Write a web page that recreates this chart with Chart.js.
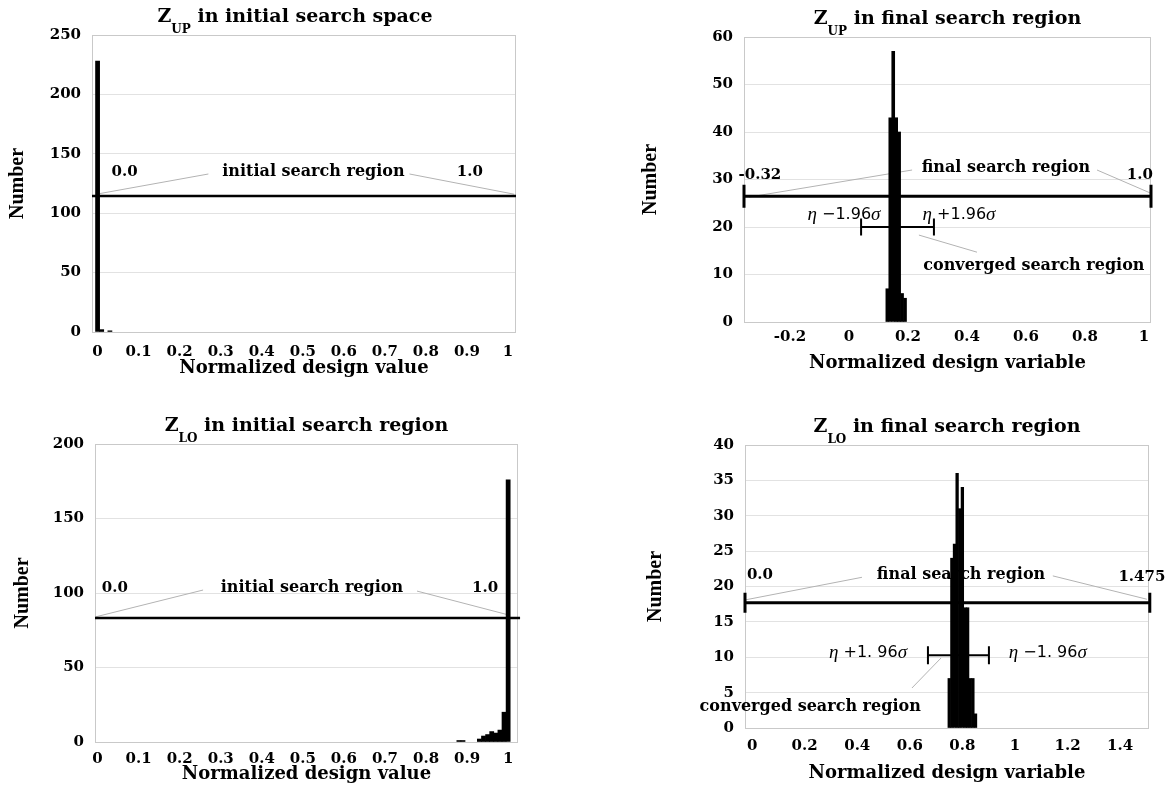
<!DOCTYPE html>
<html>
<head>
<meta charset="utf-8">
<script src="https://cdn.jsdelivr.net/npm/chart.js@4.4.1/dist/chart.umd.min.js"></script>
<style>
  html, body { margin: 0; padding: 0; background: #fff; }
  #wrap { position: relative; width: 1169px; height: 786px; overflow: hidden; }
  canvas { position: absolute; }
</style>
</head>
<body>
<div id="wrap">
  <canvas id="up-init" width="584" height="393" style="left:0;top:0"></canvas>
  <canvas id="up-final" width="585" height="393" style="left:584px;top:0"></canvas>
  <canvas id="lo-init" width="584" height="393" style="left:0;top:393px"></canvas>
  <canvas id="lo-final" width="585" height="393" style="left:584px;top:393px"></canvas>
</div>
<script>
// ---- data ----

// Z_UP, initial search space
const upInitBins = [0, 0.01, 0.03];
const upInitCounts = [228, 2, 1];
const upInitXTicks = [0, 0.1, 0.2, 0.3, 0.4, 0.5, 0.6, 0.7, 0.8, 0.9, 1];
const upInitYTicks = [0, 50, 100, 150, 200, 250];
const upInitRange = [-0.0136, 1.0195];
const upInitRegion = [-0.0136, 1.0195];
const upInitLevel = 114.5;

// Z_UP, final search region
const upFinalBins = [0.13, 0.14, 0.15, 0.16, 0.17, 0.18, 0.19];
const upFinalCounts = [7, 43, 57, 43, 40, 6, 5];
const upFinalXTicks = [-0.2, 0, 0.2, 0.4, 0.6, 0.8, 1];
const upFinalYTicks = [0, 10, 20, 30, 40, 50, 60];
const upFinalRange = [-0.356, 1.024];
const upFinalRegion = [-0.356, 1.024];
const upFinalLevel = 26.5;
const upConvRegion = [0.041, 0.288];
const upConvLevel = 20;

// Z_LO, initial search region
const loInitBins = [0.88, 0.89, 0.93, 0.94, 0.95, 0.96, 0.97, 0.98, 0.99, 1.0];
const loInitCounts = [1, 1, 2, 4, 5, 7, 6, 8, 20, 176];
const loInitXTicks = [0, 0.1, 0.2, 0.3, 0.4, 0.5, 0.6, 0.7, 0.8, 0.9, 1];
const loInitYTicks = [0, 50, 100, 150, 200];
const loInitRange = [-0.0063, 1.024];
const loInitRegion = [-0.0063, 1.029];
const loInitLevel = 83.2;

// Z_LO, final search region
const loFinalBins = [0.75, 0.76, 0.77, 0.78, 0.79, 0.80, 0.81, 0.82, 0.83, 0.84, 0.85];
const loFinalCounts = [7, 24, 26, 36, 31, 34, 17, 17, 7, 7, 2];
const loFinalXTicks = [0, 0.2, 0.4, 0.6, 0.8, 1, 1.2, 1.4];
const loFinalYTicks = [0, 5, 10, 15, 20, 25, 30, 35, 40];
const loFinalRange = [-0.027, 1.51];
const loFinalRegion = [-0.027, 1.513];
const loFinalLevel = 17.7;
const loConvRegion = [0.669, 0.901];
const loConvLevel = 10.3;

// ---- styling ----
const SERIF = "'DejaVu Serif', serif";
Chart.defaults.font.family = SERIF;
Chart.defaults.font.size = 15;
Chart.defaults.font.weight = 'bold';
Chart.defaults.color = '#000';

const LABEL_FONT = 'bold 16px ' + SERIF;
const NUM_FONT = 'bold 15px ' + SERIF;
const GREEK = "italic 19px 'Liberation Serif', serif";
const DIGITS = "16px 'DejaVu Sans', sans-serif";

function fmt(v) {
    return String(Math.round(v * 1000) / 1000);
}

function txt(t, font) {
    return [{ t: t, font: font || LABEL_FONT }];
}

function eta(sign) {
    return [{ t: 'η', font: GREEK }, { t: sign, font: DIGITS }, { t: 'σ', font: GREEK }];
}

// draws a row of text pieces centred on (cx, cy)
function drawParts(ctx, parts, cx, cy) {
    let total = 0;
    const widths = parts.map(p => {
        ctx.font = p.font;
        const w = ctx.measureText(p.t).width;
        total += w;
        return w;
    });
    let x = cx - total / 2;
    ctx.textAlign = 'left';
    ctx.textBaseline = 'middle';
    parts.forEach((p, i) => {
        ctx.font = p.font;
        ctx.fillText(p.t, x, cy);
        x += widths[i];
    });
}

/**
 * Search region bars, leader lines, labels and the subscripted title
 */
function annotations(spec) {
    return {
        id: 'annotations',
        beforeDatasetsDraw(chart) {
            const { ctx, chartArea: a, scales: { x, y } } = chart;
            ctx.save();

            // plot frame
            ctx.strokeStyle = '#c9c9c9';
            ctx.lineWidth = 1;
            ctx.strokeRect(Math.round(a.left) + 0.5, Math.round(a.top) + 0.5,
                Math.round(a.width) - 1, Math.round(a.height));

            // thin leader lines
            ctx.strokeStyle = '#b3b3b3';
            spec.leaders.forEach(([x0, y0, x1, y1]) => {
                ctx.beginPath();
                ctx.moveTo(x.getPixelForValue(x0), y.getPixelForValue(y0));
                ctx.lineTo(x.getPixelForValue(x1), y.getPixelForValue(y1));
                ctx.stroke();
            });

            // region bars
            ctx.strokeStyle = '#000';
            spec.regions.forEach(r => {
                const x0 = x.getPixelForValue(r.range[0]);
                const x1 = x.getPixelForValue(r.range[1]);
                const py = y.getPixelForValue(r.level);
                ctx.lineWidth = r.lw;
                ctx.beginPath();
                ctx.moveTo(x0, py);
                ctx.lineTo(x1, py);
                if (r.cap) {
                    ctx.moveTo(x0, py - r.cap);
                    ctx.lineTo(x0, py + r.cap);
                    ctx.moveTo(x1, py - r.cap);
                    ctx.lineTo(x1, py + r.cap);
                }
                ctx.stroke();
            });

            // labels
            ctx.fillStyle = '#000';
            spec.labels.forEach(l => {
                drawParts(ctx, l.parts, x.getPixelForValue(l.x), y.getPixelForValue(l.y));
            });
            ctx.restore();
        },
        afterDraw(chart) {
            const { ctx, chartArea: a } = chart;
            const t = spec.title;
            const mainFont = 'bold 19px ' + SERIF;
            const subFont = 'bold 12px ' + SERIF;
            ctx.save();
            ctx.fillStyle = '#000';
            ctx.textAlign = 'left';
            ctx.textBaseline = 'alphabetic';
            ctx.font = mainFont;
            const wZ = ctx.measureText(t.main).width;
            const wRest = ctx.measureText(t.rest).width;
            ctx.font = subFont;
            const wSub = ctx.measureText(t.sub).width;
            let x0 = (a.left + a.right) / 2 + (t.dx || 0) - (wZ + wSub + wRest) / 2;
            ctx.font = mainFont;
            ctx.fillText(t.main, x0, a.top - 13);
            ctx.font = subFont;
            ctx.fillText(t.sub, x0 + wZ, a.top - 2);
            ctx.font = mainFont;
            ctx.fillText(t.rest, x0 + wZ + wSub, a.top - 13);
            ctx.restore();
        }
    };
}

function buildChart(id, cfg) {
    const ctx = document.getElementById(id);
    if (!ctx) return null;

    return new Chart(ctx, {
        type: 'bar',
        data: {
            datasets: [{
                data: cfg.bins.map((b, i) => ({ x: b, y: cfg.counts[i] })),
                backgroundColor: '#000',
                borderWidth: 0,
                barPercentage: 1,
                categoryPercentage: 1,
            }]
        },
        options: {
            responsive: false,
            animation: false,
            events: [],
            layout: { padding: cfg.pad },
            plugins: {
                legend: { display: false },
                title: { display: false },
                tooltip: { enabled: false }
            },
            scales: {
                x: {
                    type: 'linear',
                    min: cfg.range[0],
                    max: cfg.range[1],
                    offset: false,
                    grid: { display: false, offset: false },
                    border: { display: false },
                    ticks: {
                        padding: cfg.xTickPad,
                        autoSkip: false,
                        maxRotation: 0,
                        callback: fmt
                    },
                    afterBuildTicks: s => { s.ticks = cfg.xTicks.map(v => ({ value: v })); },
                    afterFit: s => { s.height = cfg.xHeight; },
                    title: {
                        display: true,
                        text: cfg.xTitle,
                        font: { size: 18 },
                        padding: { top: 0, bottom: 1 }
                    }
                },
                y: {
                    min: 0,
                    max: cfg.yTicks[cfg.yTicks.length - 1],
                    grid: { color: '#e2e2e2', drawTicks: false },
                    border: { display: false },
                    ticks: { padding: 11, callback: fmt },
                    afterBuildTicks: s => { s.ticks = cfg.yTicks.map(v => ({ value: v })); },
                    afterFit: s => { s.width = cfg.yWidth; },
                    title: {
                        display: true,
                        text: 'Number',
                        font: { family: "'Liberation Serif', serif", size: 20 },
                        padding: { top: cfg.yTitlePad, bottom: 0 }
                    }
                }
            }
        },
        plugins: [annotations(cfg)]
    });
}

// Z_UP initial
buildChart('up-init', {
    bins: upInitBins, counts: upInitCounts,
    range: upInitRange, xTicks: upInitXTicks, yTicks: upInitYTicks,
    xTitle: 'Normalized design value',
    pad: { left: 0, top: 35, right: 68, bottom: 13 },
    yWidth: 92, xHeight: 48, xTickPad: 3, yTitlePad: 6,
    title: { main: 'Z', sub: 'UP', rest: ' in initial search space', dx: -9 },
    regions: [{ range: upInitRegion, level: upInitLevel, lw: 2.5, cap: 0 }],
    leaders: [[0.005, 116.5, 0.27, 133], [0.76, 133, 1.015, 116]],
    labels: [
        { x: 0.066, y: 134.7, parts: txt('0.0', NUM_FONT) },
        { x: 0.526, y: 134.7, parts: txt('initial search region') },
        { x: 0.907, y: 134.7, parts: txt('1.0', NUM_FONT) }
    ]
});

// Z_UP final
buildChart('up-final', {
    bins: upFinalBins, counts: upFinalCounts,
    range: upFinalRange, xTicks: upFinalXTicks, yTicks: upFinalYTicks,
    xTitle: 'Normalized design variable',
    pad: { left: 50, top: 37, right: 18, bottom: 18 },
    yWidth: 110, xHeight: 53, xTickPad: -2, yTitlePad: 5,
    title: { main: 'Z', sub: 'UP', rest: ' in final search region' },
    regions: [
        { range: upFinalRegion, level: upFinalLevel, lw: 3, cap: 11.5 },
        { range: upConvRegion, level: upConvLevel, lw: 2, cap: 8.5 }
    ],
    leaders: [[-0.339, 26.3, 0.214, 32], [0.841, 32, 1.02, 27.2], [0.237, 18.3, 0.434, 14.7]],
    labels: [
        { x: -0.302, y: 30.9, parts: txt('-0.32', NUM_FONT) },
        { x: 0.532, y: 32.4, parts: txt('final search region') },
        { x: 0.986, y: 30.9, parts: txt('1.0', NUM_FONT) },
        { x: -0.017, y: 22.5, parts: eta(' −1.96') },
        { x: 0.373, y: 22.5, parts: eta(' +1.96') },
        { x: 0.627, y: 11.8, parts: txt('converged search region') }
    ]
});

// Z_LO initial
buildChart('lo-init', {
    bins: loInitBins, counts: loInitCounts,
    range: loInitRange, xTicks: loInitXTicks, yTicks: loInitYTicks,
    xTitle: 'Normalized design value',
    pad: { left: 0, top: 51, right: 66, bottom: 0 },
    yWidth: 95, xHeight: 44, xTickPad: 0, yTitlePad: 11,
    title: { main: 'Z', sub: 'LO', rest: ' in initial search region' },
    regions: [{ range: loInitRegion, level: loInitLevel, lw: 2.5, cap: 0 }],
    leaders: [[-0.006, 83.9, 0.257, 102], [0.778, 101.3, 1.002, 85.2]],
    labels: [
        { x: 0.042, y: 103.4, parts: txt('0.0', NUM_FONT) },
        { x: 0.522, y: 103.4, parts: txt('initial search region') },
        { x: 0.944, y: 103.4, parts: txt('1.0', NUM_FONT) }
    ]
});

// Z_LO final
buildChart('lo-final', {
    bins: loFinalBins, counts: loFinalCounts,
    range: loFinalRange, xTicks: loFinalXTicks, yTicks: loFinalYTicks,
    xTitle: 'Normalized design variable',
    pad: { left: 55, top: 52, right: 20, bottom: 1 },
    yWidth: 106, xHeight: 57, xTickPad: 1, yTitlePad: 5,
    title: { main: 'Z', sub: 'LO', rest: ' in final search region' },
    regions: [
        { range: loFinalRegion, level: loFinalLevel, lw: 3, cap: 10 },
        { range: loConvRegion, level: loConvLevel, lw: 2, cap: 9 }
    ],
    leaders: [[-0.027, 18.1, 0.418, 21.3], [1.144, 21.5, 1.502, 18.2], [0.719, 9.9, 0.608, 5.65]],
    labels: [
        { x: 0.03, y: 21.6, parts: txt('0.0', NUM_FONT) },
        { x: 0.795, y: 21.6, parts: txt('final search region') },
        { x: 1.483, y: 21.3, parts: txt('1.475', NUM_FONT) },
        { x: 0.441, y: 10.6, parts: eta(' +1. 96') },
        { x: 1.125, y: 10.6, parts: eta(' −1. 96') },
        { x: 0.221, y: 2.97, parts: txt('converged search region') }
    ]
});
</script>
</body>
</html>
